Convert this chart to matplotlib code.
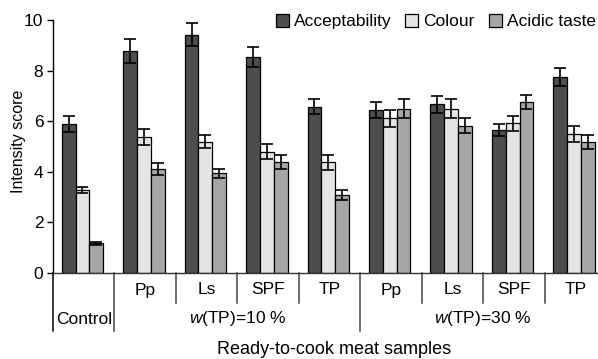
import matplotlib
matplotlib.use("Agg")
import matplotlib.pyplot as plt
import numpy as np

plt.rcParams['font.family'] = ['Liberation Sans', 'DejaVu Sans']
plt.rcParams['mathtext.fontset'] = 'custom'
plt.rcParams['mathtext.it'] = 'Liberation Sans:italic'
plt.rcParams['mathtext.rm'] = 'Liberation Sans'

samples = ["Control", "Pp", "Ls", "SPF", "TP", "Pp", "Ls", "SPF", "TP"]
series = ["Acceptability", "Colour", "Acidic taste"]
acceptability = [5.88, 8.77, 9.42, 8.54, 6.57, 6.44, 6.67, 5.65, 7.75]
acceptability_err = [0.32, 0.46, 0.45, 0.41, 0.29, 0.33, 0.33, 0.24, 0.37]
colour = [3.28, 5.38, 5.19, 4.80, 4.38, 6.11, 6.49, 5.92, 5.50]
colour_err = [0.13, 0.32, 0.26, 0.29, 0.30, 0.33, 0.37, 0.29, 0.32]
acidic = [1.17, 4.11, 3.94, 4.39, 3.08, 6.49, 5.82, 6.77, 5.18]
acidic_err = [0.07, 0.22, 0.17, 0.27, 0.19, 0.37, 0.29, 0.28, 0.28]
group_labels = ["Control", "$w$(TP)=10 %", "$w$(TP)=30 %"]
group_spans = [(0, 0), (1, 4), (5, 8)]
colors = ["#4d4d4d", "#e4e4e4", "#a6a6a6"]

fig = plt.figure(figsize=(5.98, 3.59), dpi=100)
ax = fig.add_axes([53/598, 1-273/359, 553/598, 253/359])

x = np.arange(len(samples))
w = 0.225
values = [acceptability, colour, acidic]
errs = [acceptability_err, colour_err, acidic_err]
for i, (v, e, c, name) in enumerate(zip(values, errs, colors, series)):
    ax.bar(x + (i - 1) * w - 0.02, v, w, color=c, edgecolor="black", linewidth=0.9,
           label=name, zorder=2)
    ax.errorbar(x + (i - 1) * w - 0.02, v, yerr=e, fmt="none", ecolor="black",
                elinewidth=1.2, capsize=4, capthick=1.2, zorder=3)

ax.set_xlim(-0.5, 8.5)
ax.set_ylim(0, 10)
ax.set_yticks([0, 2, 4, 6, 8, 10])
ax.tick_params(axis='y', labelsize=12.5, direction='out', length=4, width=1, pad=3)
ax.set_xticks([])
for s in ["top", "right"]:
    ax.spines[s].set_visible(False)
ax.spines["left"].set_linewidth(1)
ax.spines["bottom"].set_linewidth(1)
ax.spines["bottom"].set_color("#333333")

fig.text(18.5/598, 1-141.5/359, "Intensity score", rotation=90, ha="center", va="center",
         fontsize=11.5)

# separators below axis
trans = ax.get_xaxis_transform()
unit = 253  # px height of axes
long_y = -(331-273)/unit
short_y = -(303-273)/unit
for b in [-0.5, 0.5, 1.5, 2.5, 3.5, 4.5, 5.5, 6.5, 7.5]:
    yy = long_y if b in (-0.5, 0.5, 4.5) else short_y
    col = "black" if b == -0.5 else "#444444"
    ax.plot([b, b], [0, yy], transform=trans, color=col, lw=1.1, clip_on=False)

for xi, s in zip(x[1:], samples[1:]):
    ax.text(xi, -(290-273)/unit, s, transform=trans, ha="center", va="center", fontsize=12.5)
for lab, (a, b) in zip(group_labels, group_spans):
    ax.text((a + b)/2, -(319-273)/unit, lab, transform=trans, ha="center", va="center",
            fontsize=12.5)

fig.text(334/598, 1-350/359, "Ready-to-cook meat samples", ha="center", va="center",
         fontsize=13)

ax.legend(loc="upper right", bbox_to_anchor=(596/598, 1-14/359), bbox_transform=fig.transFigure,
          ncol=3, frameon=False, fontsize=12.5, handlelength=0.75, handleheight=0.75,
          handletextpad=0.3, columnspacing=0.8, borderaxespad=0, borderpad=0)

fig.savefig("out.png", dpi=100)
